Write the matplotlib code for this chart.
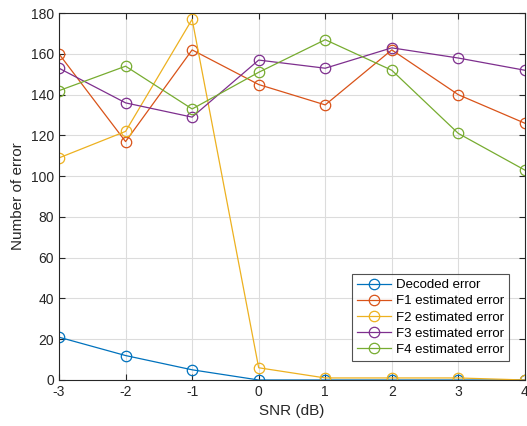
import numpy as np
from matplotlib import pyplot as plt

plt.rcParams['font.family'] = ['Liberation Sans', 'DejaVu Sans']
plt.rcParams['axes.unicode_minus'] = False

snr = [-3, -2, -1, 0, 1, 2, 3, 4]
decoded = [21, 12, 5, 0, 0, 0, 0, 0]
f1 = [160, 117, 162, 145, 135, 162, 140, 126]
f2 = [109, 122, 177, 6, 1, 1, 1, 0]
f3 = [153, 136, 129, 157, 153, 163, 158, 152]
f4 = [142, 154, 133, 151, 167, 152, 121, 103]

labels = ["Decoded error", "F1 estimated error", "F2 estimated error",
          "F3 estimated error", "F4 estimated error"]
colors = ["#0072BD", "#D95319", "#EDB120", "#7E2F8E", "#77AC30"]

fig = plt.figure(figsize=(5.27, 4.26), dpi=100)
ax = fig.add_axes([0.112, 0.108, 0.884, 0.861])

for ys, lab, c in zip([decoded, f1, f2, f3, f4], labels, colors):
    ax.plot(snr, ys, color=c, marker="o", markersize=7.5, markerfacecolor="none",
            linewidth=0.9, markeredgewidth=0.9, label=lab)

ax.set_xlim(-3, 4)
ax.set_ylim(0, 180)
ax.set_xticks(snr)
ax.set_yticks(np.arange(0, 181, 20))
ax.grid(True, color="#dcdcdc", linewidth=0.8)
ax.set_axisbelow(True)
ax.tick_params(direction="in", top=True, right=True, labelsize=10, length=4,
               colors="#262626")
for s in ax.spines.values():
    s.set_color("#262626")
    s.set_linewidth(0.8)
ax.set_xlabel("SNR (dB)", fontsize=11, color="#262626")
ax.set_ylabel("Number of error", fontsize=11, color="#262626")

leg = ax.legend(loc="lower right", bbox_to_anchor=(0.98, 0.035), fontsize=9.5,
                frameon=True, fancybox=False, edgecolor="#262626",
                handlelength=2.6, borderpad=0.35, labelspacing=0.3,
                handletextpad=0.4)
leg.get_frame().set_linewidth(0.8)

fig.savefig("out.png", dpi=100)
